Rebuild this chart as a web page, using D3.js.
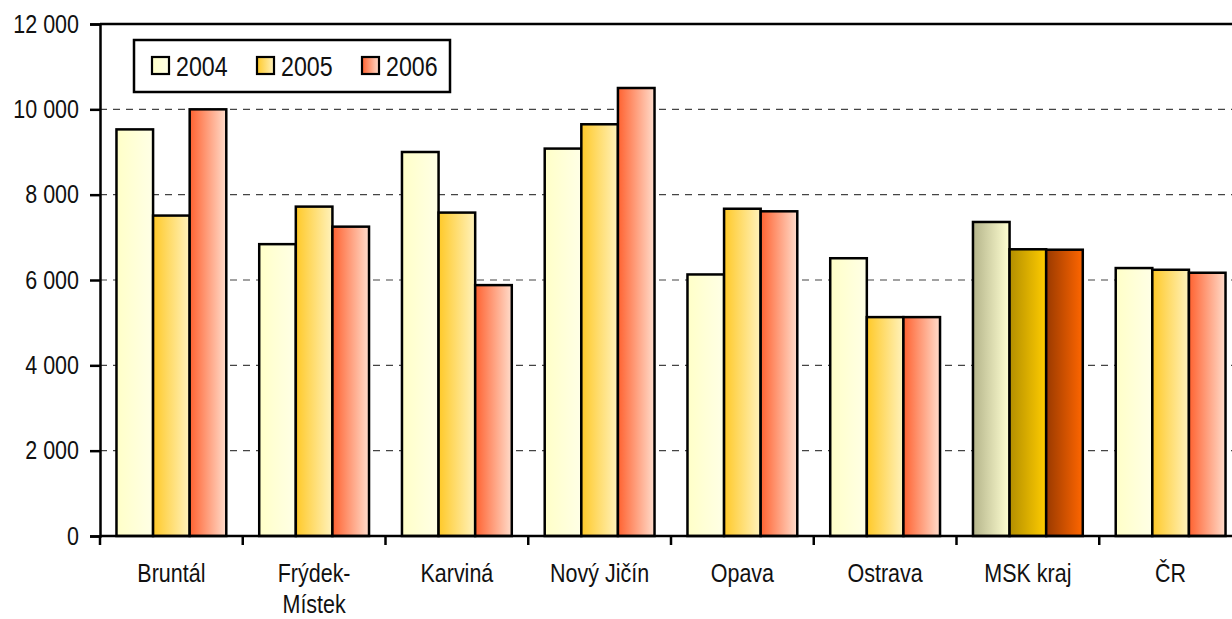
<!DOCTYPE html>
<html>
<head>
<meta charset="utf-8">
<script src="https://cdn.jsdelivr.net/npm/d3@7"></script>
<style>
  html, body { margin: 0; padding: 0; background: #fff; }
  svg { display: block; font-family: "Liberation Sans", Arial, sans-serif; }
</style>
</head>
<body>
<div id="chart"></div>
<script>
// Data.
const categories = ['Bruntál', 'Frýdek-Místek', 'Karviná', 'Nový Jičín', 'Opava', 'Ostrava', 'MSK kraj', 'ČR'];
const years = ['2004', '2005', '2006'];
const values2004 = [9530, 6840, 9000, 9080, 6130, 6510, 7360, 6280];
const values2005 = [7510, 7720, 7580, 9650, 7670, 5130, 6720, 6240];
const values2006 = [10000, 7250, 5880, 10500, 7610, 5130, 6710, 6170];
const yTicks = [0, 2000, 4000, 6000, 8000, 10000, 12000];

// Bar fills: left -> right gradient per series, darker variant for the region total.
const fills = { '2004': ['#ffffc8', '#ffffe6'], '2005': ['#ffc928', '#fff2bc'], '2006': ['#ff6230', '#ffdccb'] };
const fillsMSK = { '2004': ['#b4b48a', '#ffffd2'], '2005': ['#b38e00', '#ffcc00'], '2006': ['#9a3a00', '#ff6600'] };

const W = 1232, H = 619;
const margin = { top: 24, right: -10, bottom: 83, left: 100 };
const NARROW = 0.86;   // no Arial Narrow installed: squeeze Liberation Sans instead

const svg = d3.select('#chart').append('svg').attr('width', W).attr('height', H);
const defs = svg.append('defs');

function addGradient(id, stops) {
  const lg = defs.append('linearGradient').attr('id', id)
    .attr('x1', '0%').attr('x2', '100%').attr('y1', '0%').attr('y2', '0%');
  lg.append('stop').attr('offset', '0%').attr('stop-color', stops[0]);
  lg.append('stop').attr('offset', '100%').attr('stop-color', stops[1]);
}
years.forEach(y => { addGradient('g' + y, fills[y]); addGradient('m' + y, fillsMSK[y]); });

const x0 = d3.scaleBand().domain(categories).range([margin.left, W - margin.right]);
const x1 = d3.scaleBand().domain(years).range([0, x0.bandwidth()]).paddingOuter(0.45);
const y = d3.scaleLinear().domain([0, 12000]).range([H - margin.bottom, margin.top]);

const rows = categories.map((c, i) => ({
  cat: c,
  vals: [
    { year: '2004', v: values2004[i] },
    { year: '2005', v: values2005[i] },
    { year: '2006', v: values2006[i] }
  ]
}));

// Dashed gridlines (not at 0 or at the top border).
svg.append('g').selectAll('line')
  .data(yTicks.filter(t => t > 0 && t < 12000))
  .enter().append('line')
    .attr('x1', margin.left).attr('x2', W - margin.right)
    .attr('y1', d => y(d)).attr('y2', d => y(d))
    .attr('stroke', '#444').attr('stroke-width', 1.2)
    .attr('stroke-dasharray', '7,6');

// Top border of plot area.
svg.append('line')
  .attr('x1', margin.left).attr('x2', W - margin.right)
  .attr('y1', y(12000)).attr('y2', y(12000))
  .attr('stroke', '#000').attr('stroke-width', 2.5);

// Bars.
const groups = svg.append('g').selectAll('g')
  .data(rows).enter().append('g')
    .attr('transform', d => `translate(${x0(d.cat)},0)`);

groups.selectAll('rect')
  .data(d => d.vals.map(v => Object.assign({ cat: d.cat }, v)))
  .enter().append('rect')
    .attr('x', d => x1(d.year))
    .attr('width', x1.bandwidth())
    .attr('y', d => y(d.v))
    .attr('height', d => y(0) - y(d.v))
    .attr('fill', d => `url(#${d.cat === 'MSK kraj' ? 'm' : 'g'}${d.year})`)
    .attr('stroke', '#000').attr('stroke-width', 2.5);

// Y axis.
const fmt = v => d3.format(',')(v).replace(/,/g, ' ');
const yAxis = svg.append('g')
  .attr('transform', `translate(${margin.left},0)`)
  .call(d3.axisLeft(y).tickValues(yTicks).tickFormat(fmt).tickSize(10).tickPadding(11));
yAxis.select('.domain').attr('stroke-width', 2.5);
yAxis.selectAll('.tick line').attr('stroke-width', 2.5);
yAxis.selectAll('text')
  .attr('x', -21 / NARROW)
  .attr('transform', `scale(${NARROW},1)`)
  .attr('font-size', 25).attr('fill', '#111').attr('font-family', null);

// X axis: baseline, ticks at category boundaries, wrapped labels.
const xBase = y(0);
svg.append('line')
  .attr('x1', margin.left).attr('x2', W - margin.right)
  .attr('y1', xBase).attr('y2', xBase)
  .attr('stroke', '#000').attr('stroke-width', 2.5);

const boundaries = categories.map(c => x0(c)).concat([x0.range()[1]]);
svg.append('g').selectAll('line')
  .data(boundaries).enter().append('line')
    .attr('x1', d => d).attr('x2', d => d)
    .attr('y1', xBase).attr('y2', xBase + 9)
    .attr('stroke', '#000').attr('stroke-width', 2.5);

const labels = svg.append('g').selectAll('text')
  .data(categories).enter().append('text')
    .attr('transform', d => `translate(${x0(d) + x0.bandwidth() / 2},${xBase + 46}) scale(${NARROW},1)`)
    .attr('text-anchor', 'middle')
    .attr('font-size', 25).attr('fill', '#111');
labels.each(function (d) {
  const parts = d.includes('-') ? [d.slice(0, d.indexOf('-') + 1), d.slice(d.indexOf('-') + 1)] : [d];
  const t = d3.select(this);
  parts.forEach((p, i) => {
    t.append('tspan')
      .attr('x', 0)
      .attr('dy', i === 0 ? 0 : 31)
      .text(p);
  });
});

// Legend.
const legend = svg.append('g').attr('transform', 'translate(134,40)');
legend.append('rect')
  .attr('width', 316).attr('height', 52)
  .attr('fill', '#fff').attr('stroke', '#000').attr('stroke-width', 2.5);
const items = legend.selectAll('g.item')
  .data(years).enter().append('g')
    .attr('class', 'item')
    .attr('transform', (d, i) => `translate(${18 + i * 105},17)`);
items.append('rect')
  .attr('width', 17).attr('height', 17)
  .attr('fill', d => `url(#g${d})`)
  .attr('stroke', '#000').attr('stroke-width', 2.2);
items.append('text')
  .attr('transform', `translate(24,18.5) scale(${NARROW},1)`)
  .attr('font-size', 27).attr('fill', '#111')
  .text(d => d);
</script>
</body>
</html>
